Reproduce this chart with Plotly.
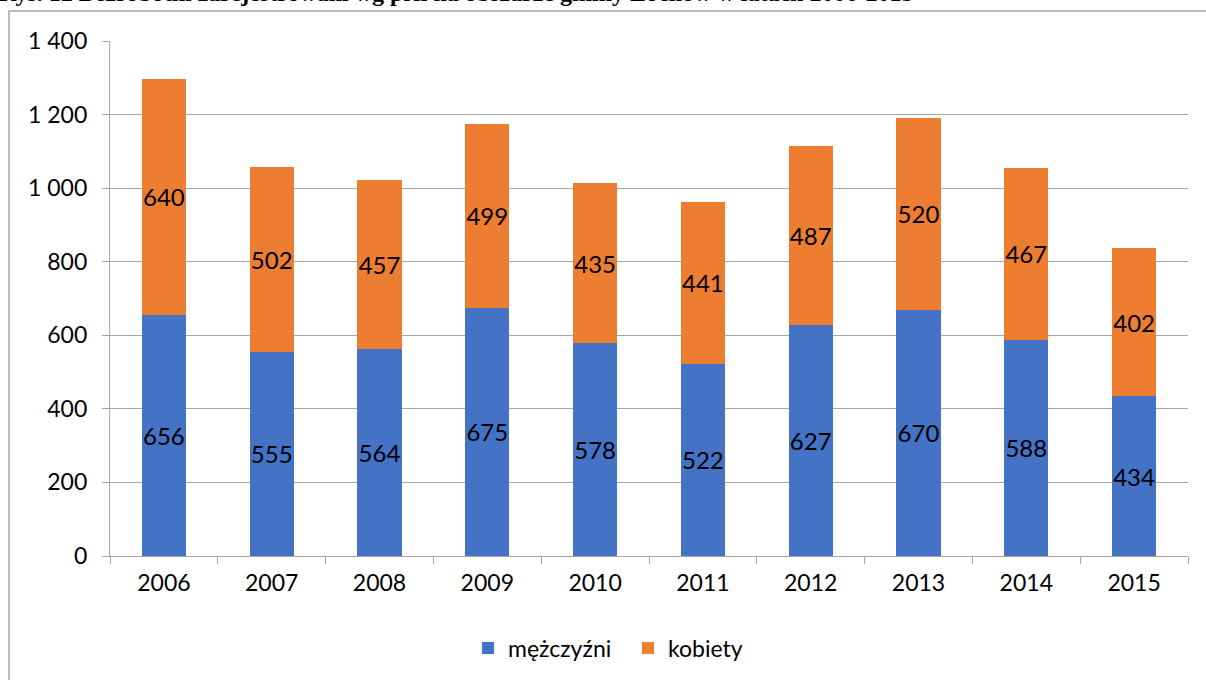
import plotly.graph_objects as go

years = ["2006", "2007", "2008", "2009", "2010", "2011", "2012", "2013", "2014", "2015"]
men = [656, 555, 564, 675, 578, 522, 627, 670, 588, 434]
women = [640, 502, 457, 499, 435, 441, 487, 520, 467, 402]
y_ticks = [0, 200, 400, 600, 800, 1000, 1200, 1400]
y_tick_text = ["0", "200", "400", "600", "800", "1 000", "1 200", "1 400"]
title_text = "Rys. 12 Bezrobotni zarejestrowani wg płci na obszarze gminy Łochów w latach 2006-2015"

W, H = 1206, 680
L, R, T, B = 110, 18, 41, 124
pw, ph = W - L - R, H - T - B

def px_x(p):
    return (p - L) / pw

def px_y(p):
    return (H - B - p) / ph

FONT = "Lato"
FS = 23

fig = go.Figure()
fig.add_trace(go.Bar(
    x=years, y=men, name="mężczyźni", marker_color="#4472C4",
    marker_line_width=0, text=men, textposition="inside",
    insidetextanchor="middle", textangle=0, constraintext="none",
    textfont=dict(family=FONT, size=24, color="black"),
))
fig.add_trace(go.Bar(
    x=years, y=women, name="kobiety", marker_color="#ED7D31",
    marker_line_width=0, text=women, textposition="inside",
    insidetextanchor="middle", textangle=0, constraintext="none",
    textfont=dict(family=FONT, size=24, color="black"),
))

fig.update_layout(
    barmode="stack",
    bargap=0.59,
    width=W, height=H,
    margin=dict(l=L, r=R, t=T, b=B, autoexpand=False),
    paper_bgcolor="white", plot_bgcolor="white",
    font=dict(family=FONT, size=FS, color="black"),
    uniformtext=dict(mode=False),
    legend=dict(orientation="h", x=px_x(468), xanchor="left", y=px_y(648), yanchor="middle",
                font=dict(family=FONT, size=FS), traceorder="normal",
                entrywidth=115, entrywidthmode="pixels"),
    xaxis=dict(type="category", tickson="boundaries", ticks="outside", ticklen=7,
               tickcolor="#a6a6a6", showline=True, linecolor="#a6a6a6", linewidth=1.3,
               showgrid=False, tickfont=dict(family=FONT, size=FS), ticklabelstandoff=6),
    yaxis=dict(range=[0, 1400], tickvals=y_ticks, ticktext=y_tick_text, ticks="outside",
               ticklen=7, tickcolor="#a6a6a6", showline=True, linecolor="#a6a6a6", linewidth=1.3,
               gridcolor="#a6a6a6", gridwidth=1, zeroline=False,
               tickfont=dict(family=FONT, size=FS), ticklabelstandoff=10),
)

fig.add_shape(type="rect", xref="paper", yref="paper",
              x0=px_x(9), x1=px_x(1212), y0=px_y(720), y1=px_y(11),
              line=dict(color="#a6a6a6", width=1.5), fillcolor="rgba(0,0,0,0)", layer="below")

fig.add_annotation(text="<b>" + title_text + "</b>", xref="paper", yref="paper",
                   x=px_x(-3), y=px_y(8), xanchor="left", yanchor="bottom", showarrow=False,
                   font=dict(family="Liberation Serif", size=24, color="black"))

fig.write_html("out.html", post_script="document.body.style.margin='0';",
               config={"displayModeBar": False})
